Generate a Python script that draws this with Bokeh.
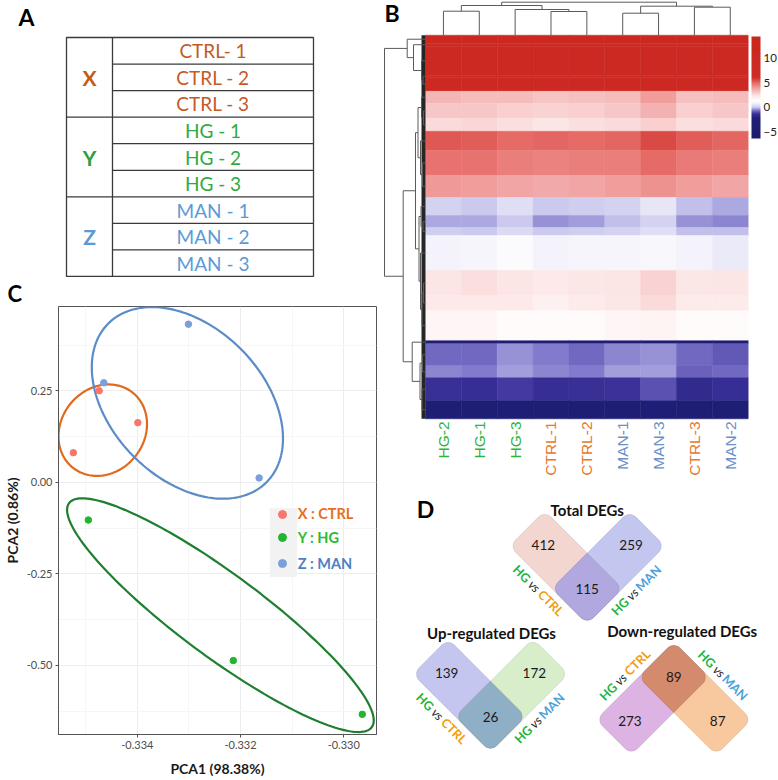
import math
from bokeh.plotting import figure
from bokeh.models import (Range1d, LinearColorMapper, ColorBar, FixedTicker, Legend,
                          LegendItem, BoxAnnotation, PrintfTickFormatter,
                          ColumnDataSource)
from bokeh.layouts import row, column
from bokeh.embed import file_html
from bokeh.resources import INLINE
from bokeh.core.properties import value

FONT = value("Lato")      # for glyphs
FONTS = "Lato"            # for annotations / axes / titles


def fs(px):
    return "%.1fpx" % px

# ======================= DATA =======================
# ---- Panel A : sample table ----
group_letters = ["X", "Y", "Z"]
group_labels = ["CTRL", "HG", "MAN"]
table_samples = ["CTRL- 1", "CTRL - 2", "CTRL - 3", "HG - 1", "HG - 2", "HG - 3",
                 "MAN - 1", "MAN - 2", "MAN - 3"]
table_sample_group = [0, 0, 0, 1, 1, 1, 2, 2, 2]

# ---- Panel B : heatmap ----
hm_columns = ["HG-2", "HG-1", "HG-3", "CTRL-1", "CTRL-2", "MAN-1", "MAN-3", "CTRL-3", "MAN-2"]
hm_col_group = [1, 1, 1, 0, 0, 2, 2, 0, 2]
band_genes = [8, 3, 29, 2, 14, 12, 15, 13, 19, 25, 22, 18, 12, 8, 35, 25, 15, 30, 3, 22, 12, 23, 18]
band_values = [
    [11.0, 11.0, 11.0, 11.0, 11.0, 11.0, 11.0, 11.0, 11.0],
    [6.5, 6.3, 6.6, 6.4, 6.5, 6.2, 6.6, 6.4, 6.5],
    [10.0, 10.0, 10.0, 10.0, 10.0, 10.0, 10.0, 10.0, 10.0],
    [6.3, 6.2, 6.4, 6.3, 6.3, 6.2, 6.4, 6.3, 6.3],
    [9.5, 9.5, 9.5, 9.5, 9.5, 9.5, 9.5, 9.5, 9.5],
    [3.4, 3.3, 3.3, 3.1, 3.2, 3.3, 3.9, 3.2, 3.3],
    [3.0, 3.0, 2.9, 2.8, 2.9, 3.0, 3.5, 2.9, 3.0],
    [2.6, 2.7, 2.5, 2.4, 2.5, 2.6, 2.9, 2.5, 2.6],
    [5.3, 5.2, 5.0, 5.1, 5.0, 5.1, 5.6, 5.2, 5.1],
    [4.8, 4.8, 4.6, 4.5, 4.6, 4.6, 5.0, 4.7, 4.6],
    [4.0, 3.9, 3.8, 3.7, 3.8, 3.9, 4.2, 3.9, 3.8],
    [0.2, 0.0, 0.4, 0.0, 0.1, 0.2, 0.6, -0.1, -0.2],
    [-0.2, -0.2, 0.0, -0.4, -0.3, -0.1, 0.2, -0.4, -0.5],
    [0.1, 0.0, 0.3, 0.0, 0.1, 0.2, 0.4, -0.1, -0.1],
    [0.9, 1.0, 1.2, 0.9, 1.0, 1.0, 1.1, 0.9, 0.7],
    [2.4, 2.5, 2.4, 2.2, 2.3, 2.4, 2.8, 2.3, 2.4],
    [2.2, 2.2, 2.2, 2.0, 2.1, 2.3, 2.6, 2.1, 2.1],
    [1.7, 1.7, 1.6, 1.6, 1.6, 1.7, 1.8, 1.6, 1.6],
    [-3.0, -3.0, -3.0, -3.0, -3.0, -3.0, -3.0, -3.0, -3.0],
    [-0.7, -0.7, -0.4, -0.6, -0.7, -0.5, -0.4, -0.7, -0.9],
    [-0.5, -0.6, -0.3, -0.5, -0.6, -0.35, -0.35, -0.8, -0.7],
    [-1.4, -1.5, -1.2, -1.5, -1.4, -1.3, -1.0, -1.6, -1.5],
    [-3.5, -3.5, -3.0, -3.5, -3.5, -3.5, -3.0, -3.5, -3.5],
]
# linkage: (child_a, child_b, height) ; new node ids continue after the leaves
col_links = [(0, 1, 24.0), (3, 4, 23.7), (2, 10, 25.7), (9, 11, 29.7),
             (5, 6, 22.0), (7, 8, 28.0), (13, 14, 29.0), (12, 15, 33.0)]
row_links = [(3, 4, 2.5), (2, 23, 4.0), (1, 24, 12.0), (0, 25, 18.3),
             (6, 7, 2.0), (5, 27, 4.0), (9, 10, 3.0), (8, 29, 5.0), (28, 30, 7.5),
             (12, 13, 2.5), (11, 32, 4.5), (15, 16, 2.0), (34, 17, 3.5), (14, 35, 5.0),
             (33, 36, 6.5), (31, 37, 10.0),
             (19, 20, 3.0), (21, 22, 3.5), (39, 40, 5.5), (18, 41, 13.3),
             (38, 42, 22.3), (26, 43, 41.0)]
cbar_ticks = [-5, 0, 5, 10]
cmap_low, cmap_high = -6.4, 14.5

# ---- Panel C : PCA ----
pca_x = [[-0.33524, -0.33474, -0.33399],      # CTRL
         [-0.33495, -0.33214, -0.32964],      # HG
         [-0.33301, -0.33465, -0.33164]]      # MAN
pca_y = [[0.081, 0.250, 0.163],
         [-0.103, -0.487, -0.634],
         [0.432, 0.272, 0.012]]
ell_cx = [-0.33467, -0.33239, -0.33303]
ell_cy = [0.1425, -0.363, 0.217]
ell_a = [48.5, 189.4, 113.0]     # semi-axes (px)
ell_b = [42.0, 41.8, 76.5]
ell_ang = [55.0, -37.0, -46.4]   # degrees
pca_xticks = [-0.334, -0.332, -0.330]
pca_yticks = [-0.50, -0.25, 0.00, 0.25]

# ---- Panel D : Venn ----
venn_titles = ["Total DEGs", "Up-regulated DEGs", "Down-regulated DEGs"]
venn_left_only = [412, 139, 273]
venn_right_only = [259, 172, 87]
venn_both = [115, 26, 89]
venn_left_name = ["HG", "vs", "CTRL"]
venn_right_name = ["HG", "vs", "MAN"]

# ======================= STYLE =======================
A_text_col = ["#C55A28", "#2EAA3E", "#5B9BD5"]
A_letter_col = ["#C55A11", "#2E9E3E", "#5B9BD5"]
B_label_col = ["#E8762D", "#2EB43E", "#6C8FC6"]
C_point_col = ["#F8766D", "#22B52E", "#7A9FDC"]
C_ell_col = ["#E0691E", "#1E7F30", "#5B8CC8"]
C_leg_col = ["#E66F24", "#2DB92D", "#4F7FC4"]
D_piece_col = {"HG": "#22B33A", "vs": "#222222", "CTRL": "#F39C12", "MAN": "#4F9FD8"}
D_piece_w = {"HG": 17.0, "vs": 11.0, "CTRL": 29.0, "MAN": 27.0}
venn_fill = [("#F4D6D1", "#C3C6EE", "#B2A8E0"),
             ("#C5C6EF", "#D8EECB", "#8FAFC6"),
             ("#DDB3E3", "#F8C99E", "#D48A6C")]
venn_center = [(586.7, 588.0), (490.0, 716.0), (673.3, 676.7)]
venn_orient = [1, 1, -1]
venn_title_off = [(0, -79), (1, -84), (8.4, -46.7)]
cmap_anchor_vals = [-6.4, -2.3, -1.3, -0.6, 0.0, 0.8, 1.4, 2.4, 3.5, 5.0, 6.1, 14.5]
cmap_anchor_cols = ["#1B1B6B", "#1F1F78", "#3B3199", "#7D75CA", "#CBC9EE", "#F2F1FA",
                    "#FFFFFF", "#FCE4E4", "#F4B2B2", "#E66A66", "#CD2B24", "#C9261D"]

# ======================= LAYOUT (page px) =======================
A_H = 277                        # panel A covers y 0..A_H, panel C the rest
A_FRAME_T = 30
C_FRAME_L, C_FRAME_R, C_FRAME_T, C_FRAME_B = 58, 376, 302, 737
B_H = 490
LEFT_W, RIGHT_W, H_TOT = 380, 397, 779

BL = C_FRAME_L
BR = LEFT_W - C_FRAME_R
pa_h = A_H
pc_h = H_TOT - pa_h
pb_h = B_H
pd_h = H_TOT - pb_h


def blank_fig(w, h, xr, yr, **kw):
    p = figure(width=w, height=h, x_range=xr, y_range=yr, x_axis_location=None,
               y_axis_location=None, toolbar_location=None, output_backend="svg",
               outline_line_color=None, **kw)
    p.grid.visible = False
    return p


def letter_title(p, txt, left_px, size):
    p.title.text = txt
    p.title.text_font = FONTS
    p.title.text_font_size = fs(size)
    p.title.text_font_style = "bold"
    p.title.text_color = "black"
    p.title.align = "left"
    p.title.standoff = 0
    p.title.offset = left_px - C_FRAME_L


# ======================= PANEL A =======================
pa = blank_fig(LEFT_W, pa_h, Range1d(C_FRAME_L, C_FRAME_R), Range1d(A_H, A_FRAME_T),
               min_border_left=BL, min_border_right=BR,
               min_border_top=A_FRAME_T, min_border_bottom=0)
letter_title(pa, "A", 18.0, 23)
T_L, T_M, T_R, T_T, T_B = 66.0, 112.0, 313.0, 37.0, 276.0
rh = (T_B - T_T) / len(table_samples)
pa.quad(left=[T_L], right=[T_R], top=[T_T], bottom=[T_B], fill_color=None,
        line_color="#3A3A3A", line_width=1.3)
sx0, sy0, sx1, sy1 = [T_M], [T_T], [T_M], [T_B]
for i in range(1, len(table_samples)):
    y = T_T + i * rh
    full = table_sample_group[i] != table_sample_group[i - 1]
    sx0.append(T_L if full else T_M); sx1.append(T_R); sy0.append(y); sy1.append(y)
pa.segment(x0=sx0, y0=sy0, x1=sx1, y1=sy1, line_color="#3A3A3A", line_width=1.3)
pa.text(x=[(T_M + T_R) / 2] * len(table_samples),
        y=[T_T + (i + 0.5) * rh for i in range(len(table_samples))],
        text=table_samples, text_color=[A_text_col[g] for g in table_sample_group],
        text_font=FONT, text_font_size=fs(19), text_align="center", text_baseline="middle")
gy = []
for g in range(len(group_letters)):
    idx = [i for i, gg in enumerate(table_sample_group) if gg == g]
    gy.append(T_T + (sum(idx) / len(idx) + 0.5) * rh)
pa.text(x=[(T_L + T_M) / 2] * 3, y=gy, text=group_letters, text_color=A_letter_col,
        text_font=FONT, text_font_size=fs(21), text_font_style="bold",
        text_align="center", text_baseline="middle")

# ======================= PANEL B =======================
HM_L, HM_R, HM_T, HM_B = 425.0, 747.7, 34.7, 418.3
n_rows = sum(band_genes)
n_cols = len(hm_columns)
kx = (HM_R - HM_L) / n_cols
ky = (HM_B - HM_T) / n_rows
B_X0, B_X1 = 380.0, 380.0 + RIGHT_W
pb = blank_fig(RIGHT_W, pb_h,
               Range1d((B_X0 - HM_L) / kx, (B_X1 - HM_L) / kx),
               Range1d((B_H - HM_T) / ky, (0 - HM_T) / ky), min_border=0)
pb.extra_x_ranges = {"rd": Range1d(HM_L - B_X0, HM_L - B_X1)}
pb.extra_y_ranges = {"cd": Range1d(HM_T - B_H, HM_T - 0)}


def interp_palette(vals, cols, low, high, n=256):
    rgb = [tuple(int(c[i:i + 2], 16) for i in (1, 3, 5)) for c in cols]
    out = []
    for i in range(n):
        v = low + (high - low) * (i + 0.5) / n
        k = 0
        while k < len(vals) - 2 and v > vals[k + 1]:
            k += 1
        t = min(max((v - vals[k]) / (vals[k + 1] - vals[k]), 0.0), 1.0)
        c = [round(rgb[k][j] + (rgb[k + 1][j] - rgb[k][j]) * t) for j in range(3)]
        out.append("#%02x%02x%02x" % tuple(c))
    return out


mapper = LinearColorMapper(palette=interp_palette(cmap_anchor_vals, cmap_anchor_cols,
                                                  cmap_low, cmap_high),
                           low=cmap_low, high=cmap_high)
ql, qr, qt, qb, qv = [], [], [], [], []
start = 0
band_pos = []
for b, ng in enumerate(band_genes):
    band_pos.append(start + ng / 2)
    for j in range(n_cols):
        ql.append(j); qr.append(j + 1); qt.append(start); qb.append(start + ng)
        qv.append(band_values[b][j])
    start += ng
hm_src = ColumnDataSource(data={"left": ql, "right": qr, "top": qt, "bottom": qb, "val": qv})
pb.quad(left="left", right="right", top="top", bottom="bottom",
        fill_color={"field": "val", "transform": mapper},
        line_color={"field": "val", "transform": mapper}, line_width=0.5,
        source=hm_src)


def dendro(leaf_pos, links):
    pos = list(leaf_pos)
    hgt = [0.0] * len(leaf_pos)
    p0, h0, p1, h1 = [], [], [], []
    for a, b, h in links:
        for c in (a, b):
            p0.append(pos[c]); h0.append(hgt[c]); p1.append(pos[c]); h1.append(h)
        p0.append(pos[a]); h0.append(h); p1.append(pos[b]); h1.append(h)
        pos.append((pos[a] + pos[b]) / 2); hgt.append(h)
    return p0, h0, p1, h1


cp0, ch0, cp1, ch1 = dendro([j + 0.5 for j in range(n_cols)], col_links)
pb.segment(x0=cp0, y0=ch0, x1=cp1, y1=ch1, y_range_name="cd", line_color="#5A5A5A",
           line_width=1)
rp0, rh0, rp1, rh1 = dendro(band_pos, row_links)
pb.quad(left=[0], right=[4.0], top=[0], bottom=[n_rows], x_range_name="rd",
        fill_color="#262626", line_color=None)
pb.segment(x0=rh0, y0=rp0, x1=rh1, y1=rp1, x_range_name="rd", line_color="#5A5A5A",
           line_width=1)
pb.text(x=[j + 0.5 for j in range(n_cols)], y=[(421 - HM_T) / ky] * n_cols,
        text=hm_columns, angle=math.pi / 2, text_align="right", text_baseline="middle",
        text_color=[B_label_col[g] for g in hm_col_group], text_font=value("Liberation Sans"),
        text_font_size=fs(15.5))
pb.text(x=[(391.5 - HM_L) / kx], y=[(12.5 - HM_T) / ky], text=["B"], text_font=FONT,
        text_font_size=fs(23), text_font_style="bold", text_align="center",
        text_baseline="middle", text_color="black")
cb = ColorBar(color_mapper=mapper, ticker=FixedTicker(ticks=cbar_ticks),
              location=(751 - B_X0, B_H - 138), width=9, height=102,
              padding=0, margin=0, label_standoff=3,
              major_label_text_font_size=fs(11.5), major_label_text_font=FONTS,
              major_label_text_color="#222222",
              major_tick_line_color=None, bar_line_color=None, border_line_color=None,
              background_fill_alpha=0)
pb.add_layout(cb)

# ======================= PANEL C =======================
pc_x0, pc_x1 = -0.335528, -0.329365
pc_y0, pc_y1 = -0.689, 0.4804
BT = C_FRAME_T - A_H
BB = pc_h - (C_FRAME_B - A_H)
pc = figure(width=LEFT_W, height=pc_h, x_range=Range1d(pc_x0, pc_x1),
            y_range=Range1d(pc_y0, pc_y1), toolbar_location=None, output_backend="svg",
            min_border_left=BL, min_border_right=BR, min_border_top=BT,
            min_border_bottom=BB, outline_line_color="#555555")
letter_title(pc, "C", 7.0, 22)
kx_ref = (C_FRAME_R - C_FRAME_L) / (pc_x1 - pc_x0)
ky_ref = (C_FRAME_B - C_FRAME_T) / (pc_y1 - pc_y0)


def c_px_to_data(rx, ry):
    return (pc_x0 + (rx - C_FRAME_L) / kx_ref, pc_y0 + (C_FRAME_B - ry) / ky_ref)


for ax, tk, mt, fmt in ((pc.xaxis, pca_xticks, [-0.335, -0.333, -0.331], "%.3f"),
                        (pc.yaxis, pca_yticks, [-0.625, -0.375, -0.125, 0.125, 0.375], "%.2f")):
    ax.ticker = FixedTicker(ticks=tk, minor_ticks=mt)
    ax.formatter = PrintfTickFormatter(format=fmt)
    ax.major_label_text_font = FONTS
    ax.major_label_text_font_size = fs(11)
    ax.major_label_text_color = "#4D4D4D"
    ax.major_tick_out = 3
    ax.major_tick_in = 0
    ax.major_tick_line_color = "#555555"
    ax.minor_tick_line_color = None
    ax.axis_line_color = "#555555"
    ax.axis_label_text_font = FONTS
    ax.axis_label_text_font_size = fs(14)
    ax.axis_label_text_font_style = "bold"
    ax.axis_label_text_color = "#1A1A1A"
    ax.major_label_standoff = 2
pc.xaxis.axis_label = "PCA1 (98.38%)"
pc.yaxis.axis_label = "PCA2 (0.86%)"
pc.xaxis.axis_label_standoff = 8
pc.yaxis.axis_label_standoff = 3
pc.grid.grid_line_color = "#EDEDED"
pc.grid.minor_grid_line_color = "#F6F6F6"

for g in range(3):
    th = math.radians(ell_ang[g])
    a, b = ell_a[g], ell_b[g]
    ex, ey = [], []
    for k in range(181):
        t = 2 * math.pi * k / 180
        dx = a * math.cos(th) * math.cos(t) - b * math.sin(th) * math.sin(t)
        dy = a * math.sin(th) * math.cos(t) + b * math.cos(th) * math.sin(t)
        ex.append(ell_cx[g] + dx / kx_ref)
        ey.append(ell_cy[g] + dy / ky_ref)
    pc.line(ex, ey, line_color=C_ell_col[g], line_width=2.2)

# legend (page px positions of key centres)
LEG_KEY_X = 281.7
LEG_KEY_Y = [516.7, 540.0, 566.0]
bx0, by0 = c_px_to_data(269.3, 577.0)
bx1, by1 = c_px_to_data(296.7, 507.0)
pc.add_layout(BoxAnnotation(left=bx0, right=bx1, bottom=by0, top=by1,
                            fill_color="#F2F2F2", fill_alpha=1, line_color=None,
                            level="underlay"))
rends = []
for g in range(3):
    rends.append(pc.scatter(pca_x[g], pca_y[g], size=6.5, color=C_point_col[g]))
for g in range(3):
    lx = (LEG_KEY_X - C_FRAME_L) - 10
    ly = (C_FRAME_B - LEG_KEY_Y[g]) - 10
    leg = Legend(items=[LegendItem(label="%s : %s" % (group_letters[g], group_labels[g]),
                                   renderers=[rends[g]])],
                 location=(lx, ly), padding=0, margin=0, spacing=0,
                 glyph_width=20, glyph_height=20, label_height=20, label_standoff=6,
                 label_text_color=C_leg_col[g], label_text_font=FONTS,
                 label_text_font_style="bold", label_text_font_size=fs(14.5),
                 background_fill_alpha=0, border_line_alpha=0)
    pc.add_layout(leg)

# ======================= PANEL D =======================
pd = blank_fig(RIGHT_W, pd_h, Range1d(B_X0, B_X1), Range1d(H_TOT, B_H), min_border=0)
VW, VL, VR = 50.0, 110.0, 9.0
R2 = math.sqrt(2)


def rounded_rect(cx, cy, L, w, phi, radii):
    pts = []
    corners = [(1, 1), (-1, 1), (-1, -1), (1, -1)]
    for (sx, sy), a0, r in zip(corners, [0, 90, 180, 270], radii):
        ccx, ccy = sx * (L / 2 - r), sy * (w / 2 - r)
        for k in range(9):
            t = math.radians(a0 + 90 * k / 8)
            pts.append((ccx + r * math.cos(t), ccy + r * math.sin(t)))
    c, s = math.cos(phi), math.sin(phi)
    return ([cx + px * c - py * s for px, py in pts], [cy + px * s + py * c for px, py in pts])


pxs, pys, pcols = [], [], []
nx, ny, nt = [], [], []
tx, ty, tt, tc, ta, tstyle = [], [], [], [], [], []
for v in range(3):
    cx, cy = venn_center[v]
    o = venn_orient[v]
    aL = (-1 / R2, -o / R2)
    aR = (1 / R2, -o / R2)
    for (ax_, ay_), col in ((aL, venn_fill[v][0]), (aR, venn_fill[v][1])):
        xs, ys = rounded_rect(cx + ax_ * (VL - VW) / 2, cy + ay_ * (VL - VW) / 2, VL, VW,
                              math.atan2(ay_, ax_), [VR] * 4)
        pxs.append(xs); pys.append(ys); pcols.append(col)
    rad = [VR, VR, 0, VR] if o == 1 else [0, VR, VR, VR]
    xs, ys = rounded_rect(cx, cy, VW, VW, math.pi / 4, rad)
    pxs.append(xs); pys.append(ys); pcols.append(venn_fill[v][2])
    dist = 62.0
    nx += [cx + aL[0] * dist, cx + aR[0] * dist, cx]
    ny += [cy + aL[1] * dist, cy + aR[1] * dist, cy]
    nt += [str(venn_left_only[v]), str(venn_right_only[v]), str(venn_both[v])]
    # edge labels
    for side, names in ((-1, venn_left_name), (1, venn_right_name)):
        a_ = aL if side == -1 else aR
        n_ = (side / R2, o / R2)
        lx = cx + a_[0] * 33 + n_[0] * (VW / 2 + 11)
        ly = cy + a_[1] * 33 + n_[1] * (VW / 2 + 11)
        d_ = (1 / R2, o / R2) if side == -1 else (1 / R2, -o / R2)
        ang = -o * math.pi / 4 if side == -1 else o * math.pi / 4
        gap = 3.5
        ws = [D_piece_w[nm] for nm in names]
        total = sum(ws) + gap * (len(ws) - 1)
        off = -total / 2
        for nm, wv in zip(names, ws):
            c_off = off + wv / 2
            tx.append(lx + d_[0] * c_off); ty.append(ly + d_[1] * c_off)
            tt.append(nm); tc.append(D_piece_col[nm]); ta.append(ang)
            tstyle.append("italic" if nm == "vs" else "bold")
            off += wv + gap

pd.patches(xs=pxs, ys=pys, fill_color=pcols, line_color="#000000", line_alpha=0.12,
           line_width=0.8)
pd.text(x=nx, y=ny, text=nt, text_font=FONT, text_font_size=fs(13.5), text_color="#1A1A1A",
        text_align="center", text_baseline="middle")
lab_src = ColumnDataSource(data={"x": tx, "y": ty, "text": tt, "angle": ta,
                                 "color": tc, "style": tstyle})
pd.text(x="x", y="y", text="text", angle="angle", text_color="color", text_font=FONT,
        text_font_size=fs(12.5), text_font_style="style", text_align="center",
        text_baseline="middle", source=lab_src)
pd.text(x=[venn_center[v][0] + venn_title_off[v][0] for v in range(3)],
        y=[venn_center[v][1] + venn_title_off[v][1] for v in range(3)],
        text=venn_titles, text_font=FONT, text_font_size=fs(15), text_font_style="bold",
        text_color="#111111", text_align="center", text_baseline="middle")
pd.text(x=[425.0], y=[508.0], text=["D"], text_font=FONT, text_font_size=fs(23),
        text_font_style="bold", text_color="black", text_align="center", text_baseline="middle")

layout = row(column(pa, pc), column(pb, pd))
open("out.html", "w").write(file_html(layout, INLINE))
